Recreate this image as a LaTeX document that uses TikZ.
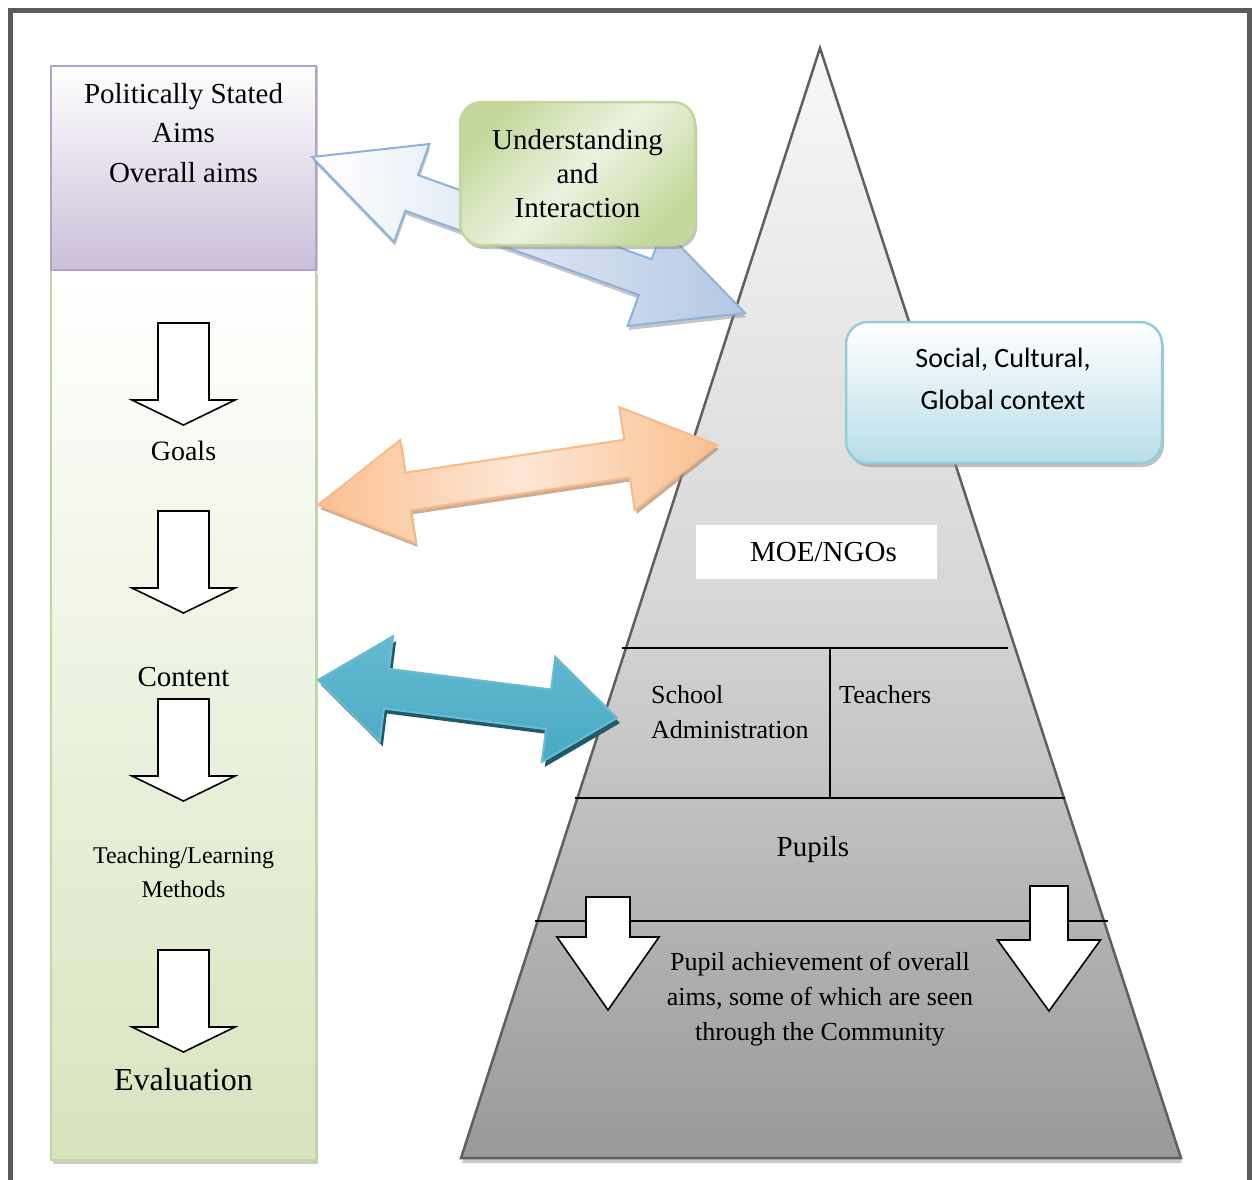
\documentclass[tikz,border=0pt]{standalone}
\usepackage{fontspec}
\setmainfont{Liberation Serif}
\newfontfamily\calibri{Carlito}
\usetikzlibrary{calc,shadows}

\definecolor{framegray}{HTML}{5A5A5A}
\definecolor{purpleB}{HTML}{B3A2C7}
\definecolor{purpleF}{HTML}{CBBFD9}
\definecolor{greenB}{HTML}{C3D69B}
\definecolor{greenF}{HTML}{D7E4BD}
\definecolor{greenD}{HTML}{C4D89E}
\definecolor{greenL}{HTML}{ECF2E0}
\definecolor{blueB}{HTML}{8EB1DC}
\definecolor{blueF}{HTML}{B4C8E3}
\definecolor{orangeB}{HTML}{F9BA8A}
\definecolor{orangeF}{HTML}{FAC090}
\definecolor{orangeL}{HTML}{FDE6D5}
\definecolor{orangeS}{HTML}{B48C6E}
\definecolor{tealF}{HTML}{48AAC4}
\definecolor{tealL}{HTML}{7CC6D9}
\definecolor{tealS}{HTML}{1F5A6A}
\definecolor{socialB}{HTML}{93CDDD}
\definecolor{socialF}{HTML}{B7DEE8}
\definecolor{pyrB}{HTML}{5F5F5F}

% double-headed block arrow between two tips:
% #1 options, #2 #3 tips, #4 head length, #5 head half-width, #6 shaft half-width
\newcommand\dblarrow[6]{%
  \path[#1] (#2)
    -- ($(#2)!#4!(#3)!#5!90:(#3)$)
    -- ($(#2)!#4!(#3)!#6!90:(#3)$)
    -- ($(#3)!#4!(#2)!#6!-90:(#2)$)
    -- ($(#3)!#4!(#2)!#5!-90:(#2)$)
    -- (#3)
    -- ($(#3)!#4!(#2)!#5!90:(#2)$)
    -- ($(#3)!#4!(#2)!#6!90:(#2)$)
    -- ($(#2)!#4!(#3)!#6!-90:(#3)$)
    -- ($(#2)!#4!(#3)!#5!-90:(#3)$)
    -- cycle;}

\begin{document}
\begin{tikzpicture}[x=1pt,y=-1pt,
  txt/.style={inner sep=0pt, align=center},
  softshadow/.style={drop shadow={shadow xshift=2pt, shadow yshift=-4pt, fill=black!45, opacity=.55}},
  pics/downarr/.style n args={4}{code={
    \draw[line width=1.6, fill=white] (-#1,0) -- (-#1,#3) -- (-#2,#3) -- (0,#3+#4)
      -- (#2,#3) -- (#1,#3) -- (#1,0) -- cycle;}}
]
\useasboundingbox (0,0) rectangle (1252,1179);

% page frame
\draw[framegray, line width=5] (10,1190) -- (10,10) -- (1249.5,10) -- (1249.5,1190);

% ---------- left column ----------
\path[draw=greenB, line width=2, top color=white, bottom color=greenF,
  drop shadow={shadow xshift=2pt, shadow yshift=-4pt, fill=black!40, opacity=.5}]
  (51,270) rectangle (316,1160);
\path[draw=purpleB, line width=2, top color=white, bottom color=purpleF,
  drop shadow={shadow xshift=2pt, shadow yshift=0pt, fill=black!40, opacity=.5}]
  (51,66) rectangle (316,270);

\node[txt, font=\fontsize{29}{39.5}\selectfont] (aims) at (183.5,133)
  {Politically Stated\\Aims\\Overall aims};

\pic at (183.5,323) {downarr={25.5}{51.5}{77}{25}};
\node[txt, font=\fontsize{28}{34}\selectfont] (goals) at (183.5,451) {Goals};
\pic at (183.5,511) {downarr={25.5}{51.5}{77}{25}};
\node[txt, font=\fontsize{29}{34}\selectfont] (content) at (183.5,677) {Content};
\pic at (183.5,699) {downarr={25.5}{51.5}{77}{25}};
\node[txt, font=\fontsize{24}{34}\selectfont] (methods) at (183.5,872)
  {Teaching/Learning\\Methods};
\pic at (183.5,950) {downarr={25.5}{51.5}{77}{25}};
\node[txt, font=\fontsize{32}{36}\selectfont] (evaluation) at (183.5,1080) {Evaluation};

% ---------- pyramid ----------
\coordinate (apex) at (820,48);
\coordinate (baseL) at (461,1158);
\coordinate (baseR) at (1181,1158);
\path[draw=pyrB, line width=2.5, top color=black!3, bottom color=black!40, middle color=black!16,
  drop shadow={shadow xshift=1pt, shadow yshift=-5pt, fill=black!35, opacity=.6}]
  (apex) -- (baseR) -- (baseL) -- cycle;

\draw[line width=2] (622,648) -- (1008,648);
\draw[line width=2] (830,648) -- (830,798);
\draw[line width=2] (575,798) -- (1065,798);
\draw[line width=2] (535,921) -- (1108,921);

\node[fill=white, inner sep=0pt, minimum width=241, minimum height=54,
  font=\fontsize{29}{34}\selectfont] (moe) at (816.5,552) {\hspace*{14pt}MOE/NGOs};
\node[anchor=west, align=left, inner sep=0pt, font=\fontsize{26}{35}\selectfont]
  (school) at (651,712) {School\\Administration};
\node[anchor=west, inner sep=0pt, font=\fontsize{26}{35}\selectfont]
  (teachers) at (839,695) {Teachers};
\node[txt, font=\fontsize{29}{34}\selectfont] (pupils) at (813,850) {Pupils};

\pic at (608,897) {downarr={22}{51}{40}{73}};
\pic at (1049,886) {downarr={19}{51.5}{54}{71}};
\node[txt, font=\fontsize{26}{35}\selectfont] (achieve) at (820,999)
  {Pupil achievement of overall\\aims, some of which are seen\\through the Community};

% ---------- social context box ----------
\node[draw=socialB, line width=2.5, rounded corners=22, minimum width=316, minimum height=141,
  top color=white, bottom color=socialF, softshadow] (social) at (1004,392.5) {};
\node[txt, font=\calibri\fontsize{28}{42}\selectfont] (socialtxt) at (1003,379)
  {Social, Cultural,\\Global context};

% ---------- double arrows ----------
\coordinate (blueL) at (312,157);
\coordinate (blueR) at (745,313);
\dblarrow{draw=blueB, line width=2, left color=white, right color=blueF,
  drop shadow={shadow xshift=1pt, shadow yshift=-4pt, fill=black!45, opacity=.5}}
  {blueL}{blueR}{106pt}{52pt}{19pt}

\coordinate (orangeLt) at (318,505);
\coordinate (orangeRt) at (717,445);
\dblarrow{draw=orangeB, line width=2, left color=orangeF, right color=orangeF, middle color=orangeL,
  drop shadow={shadow xshift=2pt, shadow yshift=-4pt, fill=orangeS, opacity=.7}}
  {orangeLt}{orangeRt}{91pt}{52pt}{19pt}

\coordinate (tealLt) at (318,680);
\coordinate (tealRt) at (617,718);
\dblarrow{draw=tealF!80!white, line width=2, top color=tealL!55!tealF, bottom color=tealF,
  drop shadow={shadow xshift=3pt, shadow yshift=-5pt, fill=tealS, opacity=1}}
  {tealLt}{tealRt}{69pt}{53pt}{20pt}

% ---------- understanding box ----------
\node[draw=greenB, line width=2.5, rounded corners=22, minimum width=235, minimum height=143,
  top color=greenD, bottom color=greenD, middle color=greenL, shading angle=45,
  softshadow, txt, font=\fontsize{29}{34}\selectfont] (understand) at (577.5,173.5)
  {Understanding\\and\\Interaction};

\end{tikzpicture}
\end{document}
